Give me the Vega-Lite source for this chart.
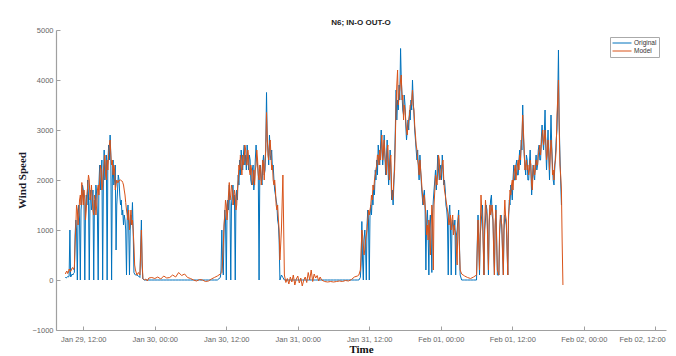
{
 "$schema": "https://vega.github.io/schema/vega-lite/v6.json",
 "width": 610, "height": 300,
 "autosize": {"type": "none"},
 "padding": {"left": 56, "top": 30, "right": 10, "bottom": 26},
 "background": "white",
 "title": {"text": "N6; IN-O OUT-O", "fontSize": 8, "font": "Liberation Sans", "fontWeight": "bold", "color": "#222", "offset": -1, "anchor": "middle"},
 "data": {"values": [
{"t":"2021-01-29T09:00Z","o":60,"m":120},{"t":"2021-01-29T09:07Z","o":40,"m":160},{"t":"2021-01-29T09:15Z","o":50,"m":180},{"t":"2021-01-29T09:22Z","o":70,"m":130},
{"t":"2021-01-29T09:30Z","o":60,"m":150},{"t":"2021-01-29T09:37Z","o":80,"m":220},{"t":"2021-01-29T09:45Z","o":1000,"m":200},{"t":"2021-01-29T09:52Z","o":60,"m":170},
{"t":"2021-01-29T10:00Z","o":80,"m":200},{"t":"2021-01-29T10:07Z","o":120,"m":240},{"t":"2021-01-29T10:15Z","o":100,"m":250},{"t":"2021-01-29T10:22Z","o":130,"m":210},
{"t":"2021-01-29T10:30Z","o":150,"m":250},{"t":"2021-01-29T10:37Z","o":900,"m":700},{"t":"2021-01-29T10:45Z","o":1200,"m":1100},{"t":"2021-01-29T10:52Z","o":1000,"m":1500},
{"t":"2021-01-29T11:00Z","o":0,"m":1400},{"t":"2021-01-29T11:07Z","o":1300,"m":1100},{"t":"2021-01-29T11:15Z","o":1500,"m":1300},{"t":"2021-01-29T11:22Z","o":1200,"m":1600},
{"t":"2021-01-29T11:30Z","o":0,"m":1700},{"t":"2021-01-29T11:37Z","o":1400,"m":1500},{"t":"2021-01-29T11:45Z","o":1600,"m":1950},{"t":"2021-01-29T11:52Z","o":1900,"m":1700},
{"t":"2021-01-29T12:00Z","o":1800,"m":1500},{"t":"2021-01-29T12:07Z","o":1500,"m":1800},{"t":"2021-01-29T12:15Z","o":0,"m":1600},{"t":"2021-01-29T12:22Z","o":1400,"m":1200},
{"t":"2021-01-29T12:30Z","o":1700,"m":1400},{"t":"2021-01-29T12:37Z","o":1500,"m":1700},{"t":"2021-01-29T12:45Z","o":2000,"m":1900},{"t":"2021-01-29T12:52Z","o":1700,"m":2100},
{"t":"2021-01-29T13:00Z","o":0,"m":2000},{"t":"2021-01-29T13:07Z","o":1500,"m":1600},{"t":"2021-01-29T13:15Z","o":1800,"m":1700},{"t":"2021-01-29T13:22Z","o":1400,"m":1900},
{"t":"2021-01-29T13:30Z","o":1500,"m":1600},{"t":"2021-01-29T13:37Z","o":1800,"m":1400},{"t":"2021-01-29T13:45Z","o":0,"m":1300},{"t":"2021-01-29T13:52Z","o":1600,"m":1700},
{"t":"2021-01-29T14:00Z","o":1400,"m":1600},{"t":"2021-01-29T14:07Z","o":1900,"m":1300},{"t":"2021-01-29T14:15Z","o":1700,"m":1500},{"t":"2021-01-29T14:22Z","o":1300,"m":1800},
{"t":"2021-01-29T14:30Z","o":0,"m":1900},{"t":"2021-01-29T14:37Z","o":1900,"m":1700},{"t":"2021-01-29T14:45Z","o":2300,"m":2000},{"t":"2021-01-29T14:52Z","o":1800,"m":2300},
{"t":"2021-01-29T15:00Z","o":2100,"m":2200},{"t":"2021-01-29T15:07Z","o":2400,"m":1800},{"t":"2021-01-29T15:15Z","o":0,"m":1900},{"t":"2021-01-29T15:22Z","o":2000,"m":2200},
{"t":"2021-01-29T15:30Z","o":2600,"m":2300},{"t":"2021-01-29T15:37Z","o":2000,"m":2500},{"t":"2021-01-29T15:45Z","o":2200,"m":2100},{"t":"2021-01-29T15:52Z","o":2500,"m":2000},
{"t":"2021-01-29T16:00Z","o":0,"m":2400},{"t":"2021-01-29T16:07Z","o":2300,"m":2200},{"t":"2021-01-29T16:15Z","o":2700,"m":2500},{"t":"2021-01-29T16:22Z","o":2400,"m":2700},
{"t":"2021-01-29T16:30Z","o":2900,"m":2800},{"t":"2021-01-29T16:37Z","o":2500,"m":2500},{"t":"2021-01-29T16:45Z","o":0,"m":2300},{"t":"2021-01-29T16:52Z","o":2000,"m":2400},
{"t":"2021-01-29T17:00Z","o":2400,"m":2100},{"t":"2021-01-29T17:07Z","o":1900,"m":2300},{"t":"2021-01-29T17:15Z","o":2000,"m":2200},{"t":"2021-01-29T17:22Z","o":2300,"m":1800},
{"t":"2021-01-29T17:30Z","o":600,"m":1900},{"t":"2021-01-29T17:37Z","o":1500,"m":2000},{"t":"2021-01-29T17:45Z","o":1800,"m":1950},{"t":"2021-01-29T17:52Z","o":2100,"m":1950},
{"t":"2021-01-29T18:00Z","o":2000,"m":2000},{"t":"2021-01-29T18:07Z","o":1700,"m":1990},{"t":"2021-01-29T18:15Z","o":1500,"m":2000},{"t":"2021-01-29T18:22Z","o":1600,"m":1990},
{"t":"2021-01-29T18:30Z","o":1300,"m":1980},{"t":"2021-01-29T18:37Z","o":1400,"m":1950},{"t":"2021-01-29T18:45Z","o":1100,"m":1900},{"t":"2021-01-29T18:52Z","o":1300,"m":1800},
{"t":"2021-01-29T19:00Z","o":1200,"m":1700},{"t":"2021-01-29T19:07Z","o":1000,"m":1550},{"t":"2021-01-29T19:15Z","o":100,"m":1400},{"t":"2021-01-29T19:22Z","o":1200,"m":1300},
{"t":"2021-01-29T19:30Z","o":1500,"m":1200},{"t":"2021-01-29T19:37Z","o":1100,"m":1400},{"t":"2021-01-29T19:45Z","o":100,"m":1000},{"t":"2021-01-29T19:52Z","o":1000,"m":1200},
{"t":"2021-01-29T20:00Z","o":1300,"m":1400},{"t":"2021-01-29T20:07Z","o":1100,"m":1100},{"t":"2021-01-29T20:15Z","o":1550,"m":1200},{"t":"2021-01-29T20:22Z","o":1000,"m":1000},
{"t":"2021-01-29T20:30Z","o":150,"m":700},{"t":"2021-01-29T20:37Z","o":120,"m":300},{"t":"2021-01-29T20:45Z","o":100,"m":200},
{"t":"2021-01-29T21:00Z","o":100,"m":100},{"t":"2021-01-29T21:15Z","o":80,"m":150},{"t":"2021-01-29T21:30Z","o":50,"m":100},{"t":"2021-01-29T21:37Z","o":600,"m":500},{"t":"2021-01-29T21:45Z","o":1200,"m":1000},
{"t":"2021-01-29T21:52Z","o":300,"m":400},{"t":"2021-01-29T22:00Z","o":20,"m":30},{"t":"2021-01-29T22:15Z","o":0,"m":0},{"t":"2021-01-29T22:30Z","o":0,"m":20},{"t":"2021-01-29T22:45Z","o":0,"m":-20},
{"t":"2021-01-29T23:00Z","o":0,"m":40},{"t":"2021-01-29T23:30Z","o":0,"m":50},
{"t":"2021-01-30T00:00Z","o":0,"m":30},{"t":"2021-01-30T00:30Z","o":0,"m":60},{"t":"2021-01-30T01:00Z","o":0,"m":20},{"t":"2021-01-30T01:30Z","o":0,"m":80},
{"t":"2021-01-30T02:00Z","o":0,"m":40},{"t":"2021-01-30T02:30Z","o":0,"m":50},{"t":"2021-01-30T03:00Z","o":0,"m":100},{"t":"2021-01-30T03:30Z","o":0,"m":60},
{"t":"2021-01-30T04:00Z","o":0,"m":150},{"t":"2021-01-30T04:30Z","o":0,"m":90},{"t":"2021-01-30T05:00Z","o":0,"m":120},{"t":"2021-01-30T05:30Z","o":0,"m":50},
{"t":"2021-01-30T06:00Z","o":0,"m":30},{"t":"2021-01-30T06:30Z","o":0,"m":0},{"t":"2021-01-30T07:00Z","o":0,"m":-20},{"t":"2021-01-30T07:30Z","o":0,"m":10},
{"t":"2021-01-30T08:00Z","o":0,"m":0},{"t":"2021-01-30T08:30Z","o":0,"m":-30},{"t":"2021-01-30T09:00Z","o":0,"m":-20},{"t":"2021-01-30T09:30Z","o":0,"m":20},
{"t":"2021-01-30T10:00Z","o":0,"m":50},{"t":"2021-01-30T10:30Z","o":0,"m":80},
{"t":"2021-01-30T11:00Z","o":50,"m":120},{"t":"2021-01-30T11:07Z","o":200,"m":130},{"t":"2021-01-30T11:15Z","o":1000,"m":150},{"t":"2021-01-30T11:22Z","o":300,"m":400},
{"t":"2021-01-30T11:30Z","o":100,"m":700},{"t":"2021-01-30T11:37Z","o":1000,"m":1100},{"t":"2021-01-30T11:45Z","o":1400,"m":1300},{"t":"2021-01-30T11:52Z","o":1200,"m":1600},
{"t":"2021-01-30T12:00Z","o":0,"m":1500},{"t":"2021-01-30T12:07Z","o":1300,"m":1200},{"t":"2021-01-30T12:15Z","o":1600,"m":1400},{"t":"2021-01-30T12:22Z","o":1400,"m":1700},
{"t":"2021-01-30T12:30Z","o":1900,"m":1950},{"t":"2021-01-30T12:37Z","o":1500,"m":1600},{"t":"2021-01-30T12:45Z","o":0,"m":1700},{"t":"2021-01-30T12:52Z","o":1500,"m":1900},
{"t":"2021-01-30T13:00Z","o":1700,"m":1800},{"t":"2021-01-30T13:07Z","o":1900,"m":1500},{"t":"2021-01-30T13:15Z","o":1500,"m":1600},{"t":"2021-01-30T13:22Z","o":1700,"m":1800},
{"t":"2021-01-30T13:30Z","o":0,"m":1700},{"t":"2021-01-30T13:37Z","o":1500,"m":1400},{"t":"2021-01-30T13:45Z","o":1800,"m":1500},{"t":"2021-01-30T13:52Z","o":1600,"m":1800},
{"t":"2021-01-30T14:00Z","o":2100,"m":2000},{"t":"2021-01-30T14:07Z","o":1900,"m":2300},{"t":"2021-01-30T14:15Z","o":2400,"m":2200},{"t":"2021-01-30T14:22Z","o":2100,"m":2500},
{"t":"2021-01-30T14:30Z","o":2600,"m":2300},{"t":"2021-01-30T14:37Z","o":2400,"m":2100},{"t":"2021-01-30T14:45Z","o":2200,"m":2500},{"t":"2021-01-30T14:52Z","o":2500,"m":2300},
{"t":"2021-01-30T15:00Z","o":2700,"m":2400},{"t":"2021-01-30T15:07Z","o":2300,"m":2700},{"t":"2021-01-30T15:15Z","o":2500,"m":2600},{"t":"2021-01-30T15:22Z","o":2200,"m":2300},
{"t":"2021-01-30T15:30Z","o":2700,"m":2300},{"t":"2021-01-30T15:37Z","o":2500,"m":2600},{"t":"2021-01-30T15:45Z","o":2200,"m":2400},{"t":"2021-01-30T15:52Z","o":2500,"m":2200},
{"t":"2021-01-30T16:00Z","o":2400,"m":2100},{"t":"2021-01-30T16:07Z","o":2000,"m":2300},{"t":"2021-01-30T16:15Z","o":1900,"m":2200},{"t":"2021-01-30T16:22Z","o":2200,"m":1900},
{"t":"2021-01-30T16:30Z","o":2300,"m":2000},{"t":"2021-01-30T16:37Z","o":1800,"m":2200},{"t":"2021-01-30T16:45Z","o":2000,"m":1900},{"t":"2021-01-30T16:52Z","o":2400,"m":2200},
{"t":"2021-01-30T17:00Z","o":2700,"m":2300},{"t":"2021-01-30T17:07Z","o":2400,"m":2600},{"t":"2021-01-30T17:15Z","o":2300,"m":2400},{"t":"2021-01-30T17:22Z","o":2100,"m":2100},
{"t":"2021-01-30T17:30Z","o":0,"m":2000},{"t":"2021-01-30T17:37Z","o":2000,"m":2300},{"t":"2021-01-30T17:45Z","o":2300,"m":2200},{"t":"2021-01-30T17:52Z","o":2000,"m":1900},
{"t":"2021-01-30T18:00Z","o":1900,"m":2100},{"t":"2021-01-30T18:07Z","o":2300,"m":2400},{"t":"2021-01-30T18:15Z","o":2500,"m":2300},{"t":"2021-01-30T18:22Z","o":2100,"m":2000},
{"t":"2021-01-30T18:30Z","o":2200,"m":2400},{"t":"2021-01-30T18:37Z","o":2600,"m":2600},{"t":"2021-01-30T18:45Z","o":3750,"m":3350},{"t":"2021-01-30T18:52Z","o":2800,"m":2900},
{"t":"2021-01-30T19:00Z","o":2600,"m":2500},{"t":"2021-01-30T19:07Z","o":2300,"m":2400},{"t":"2021-01-30T19:15Z","o":2900,"m":2700},{"t":"2021-01-30T19:22Z","o":2500,"m":2800},
{"t":"2021-01-30T19:30Z","o":2400,"m":2500},{"t":"2021-01-30T19:37Z","o":2600,"m":2200},{"t":"2021-01-30T19:45Z","o":2200,"m":2300},{"t":"2021-01-30T19:52Z","o":2300,"m":2000},
{"t":"2021-01-30T20:00Z","o":2000,"m":1900},{"t":"2021-01-30T20:07Z","o":1800,"m":2000},{"t":"2021-01-30T20:15Z","o":1700,"m":1800},{"t":"2021-01-30T20:22Z","o":1600,"m":1500},
{"t":"2021-01-30T20:30Z","o":1500,"m":1400},{"t":"2021-01-30T20:37Z","o":1200,"m":1500},{"t":"2021-01-30T20:45Z","o":1100,"m":1200},{"t":"2021-01-30T20:52Z","o":800,"m":1000},
{"t":"2021-01-30T21:00Z","o":0,"m":400},{"t":"2021-01-30T21:15Z","o":100,"m":1000},{"t":"2021-01-30T21:30Z","o":50,"m":2100},{"t":"2021-01-30T21:45Z","o":0,"m":100},
{"t":"2021-01-30T22:00Z","o":0,"m":-50},{"t":"2021-01-30T22:15Z","o":0,"m":30},{"t":"2021-01-30T22:30Z","o":0,"m":-80},{"t":"2021-01-30T22:45Z","o":0,"m":60},
{"t":"2021-01-30T23:00Z","o":0,"m":-40},{"t":"2021-01-30T23:15Z","o":0,"m":100},{"t":"2021-01-30T23:30Z","o":0,"m":-100},{"t":"2021-01-30T23:45Z","o":0,"m":20},
{"t":"2021-01-31T00:00Z","o":0,"m":80},{"t":"2021-01-31T00:15Z","o":0,"m":-60},{"t":"2021-01-31T00:30Z","o":0,"m":40},{"t":"2021-01-31T00:45Z","o":0,"m":-120},
{"t":"2021-01-31T01:00Z","o":0,"m":0},{"t":"2021-01-31T01:15Z","o":0,"m":60},{"t":"2021-01-31T01:30Z","o":0,"m":-50},{"t":"2021-01-31T01:45Z","o":0,"m":150},
{"t":"2021-01-31T02:00Z","o":0,"m":0},{"t":"2021-01-31T02:15Z","o":0,"m":200},{"t":"2021-01-31T02:30Z","o":0,"m":-30},{"t":"2021-01-31T02:45Z","o":0,"m":120},
{"t":"2021-01-31T03:00Z","o":0,"m":40},{"t":"2021-01-31T03:15Z","o":0,"m":90},{"t":"2021-01-31T03:30Z","o":0,"m":-20},{"t":"2021-01-31T03:45Z","o":0,"m":60},
{"t":"2021-01-31T04:00Z","o":0,"m":0},{"t":"2021-01-31T04:30Z","o":0,"m":-30},{"t":"2021-01-31T05:00Z","o":0,"m":-40},{"t":"2021-01-31T05:30Z","o":0,"m":-30},
{"t":"2021-01-31T06:00Z","o":0,"m":-40},{"t":"2021-01-31T06:30Z","o":0,"m":-30},{"t":"2021-01-31T07:00Z","o":0,"m":-20},{"t":"2021-01-31T07:30Z","o":0,"m":-30},
{"t":"2021-01-31T08:00Z","o":0,"m":-10},{"t":"2021-01-31T08:30Z","o":0,"m":-20},{"t":"2021-01-31T09:00Z","o":0,"m":10},{"t":"2021-01-31T09:30Z","o":0,"m":60},
{"t":"2021-01-31T10:00Z","o":0,"m":80},{"t":"2021-01-31T10:15Z","o":0,"m":100},
{"t":"2021-01-31T10:30Z","o":50,"m":200},{"t":"2021-01-31T10:37Z","o":300,"m":500},{"t":"2021-01-31T10:45Z","o":1170,"m":1000},{"t":"2021-01-31T10:52Z","o":400,"m":900},
{"t":"2021-01-31T11:00Z","o":0,"m":700},{"t":"2021-01-31T11:07Z","o":800,"m":500},{"t":"2021-01-31T11:15Z","o":1000,"m":600},{"t":"2021-01-31T11:22Z","o":700,"m":800},
{"t":"2021-01-31T11:30Z","o":0,"m":900},{"t":"2021-01-31T11:37Z","o":1100,"m":1000},{"t":"2021-01-31T11:45Z","o":1400,"m":1200},{"t":"2021-01-31T11:52Z","o":1200,"m":1400},
{"t":"2021-01-31T12:00Z","o":0,"m":1300},{"t":"2021-01-31T12:07Z","o":1300,"m":1400},{"t":"2021-01-31T12:15Z","o":1500,"m":1500},{"t":"2021-01-31T12:22Z","o":1300,"m":1700},
{"t":"2021-01-31T12:30Z","o":1700,"m":1600},{"t":"2021-01-31T12:37Z","o":1500,"m":1900},{"t":"2021-01-31T12:45Z","o":1900,"m":1800},{"t":"2021-01-31T12:52Z","o":1700,"m":2000},
{"t":"2021-01-31T13:00Z","o":2200,"m":2100},{"t":"2021-01-31T13:07Z","o":2000,"m":2200},{"t":"2021-01-31T13:15Z","o":2400,"m":2300},{"t":"2021-01-31T13:22Z","o":2100,"m":2500},
{"t":"2021-01-31T13:30Z","o":2700,"m":2500},{"t":"2021-01-31T13:37Z","o":2500,"m":2300},{"t":"2021-01-31T13:45Z","o":2300,"m":2600},{"t":"2021-01-31T13:52Z","o":2600,"m":2400},
{"t":"2021-01-31T14:00Z","o":3000,"m":2700},{"t":"2021-01-31T14:07Z","o":2600,"m":2900},{"t":"2021-01-31T14:15Z","o":2300,"m":2400},{"t":"2021-01-31T14:22Z","o":2500,"m":2600},
{"t":"2021-01-31T14:30Z","o":2900,"m":2800},{"t":"2021-01-31T14:37Z","o":2500,"m":2500},{"t":"2021-01-31T14:45Z","o":2100,"m":2300},{"t":"2021-01-31T14:52Z","o":2400,"m":2100},
{"t":"2021-01-31T15:00Z","o":2800,"m":2600},{"t":"2021-01-31T15:07Z","o":2300,"m":2700},{"t":"2021-01-31T15:15Z","o":1900,"m":2200},{"t":"2021-01-31T15:22Z","o":2200,"m":2000},
{"t":"2021-01-31T15:30Z","o":2600,"m":2400},{"t":"2021-01-31T15:37Z","o":2200,"m":2500},{"t":"2021-01-31T15:45Z","o":1600,"m":1800},{"t":"2021-01-31T15:52Z","o":1800,"m":1600},
{"t":"2021-01-31T16:00Z","o":1500,"m":1700},{"t":"2021-01-31T16:07Z","o":1900,"m":2000},{"t":"2021-01-31T16:15Z","o":2400,"m":2200},{"t":"2021-01-31T16:22Z","o":3000,"m":2800},
{"t":"2021-01-31T16:30Z","o":3800,"m":3500},{"t":"2021-01-31T16:37Z","o":3200,"m":3900},{"t":"2021-01-31T16:45Z","o":3600,"m":4200},{"t":"2021-01-31T16:52Z","o":3400,"m":3500},
{"t":"2021-01-31T17:00Z","o":3900,"m":3700},{"t":"2021-01-31T17:07Z","o":3600,"m":3800},{"t":"2021-01-31T17:15Z","o":4630,"m":4000},{"t":"2021-01-31T17:22Z","o":4000,"m":4100},
{"t":"2021-01-31T17:30Z","o":3700,"m":3600},{"t":"2021-01-31T17:37Z","o":3400,"m":3700},{"t":"2021-01-31T17:45Z","o":3300,"m":3200},{"t":"2021-01-31T17:52Z","o":3700,"m":3500},
{"t":"2021-01-31T18:00Z","o":3500,"m":3400},{"t":"2021-01-31T18:07Z","o":3100,"m":3200},{"t":"2021-01-31T18:15Z","o":2800,"m":3000},{"t":"2021-01-31T18:22Z","o":3000,"m":2900},
{"t":"2021-01-31T18:30Z","o":3200,"m":3100},{"t":"2021-01-31T18:37Z","o":3000,"m":3200},{"t":"2021-01-31T18:45Z","o":3400,"m":3300},{"t":"2021-01-31T18:52Z","o":3200,"m":3500},
{"t":"2021-01-31T19:00Z","o":3600,"m":3500},{"t":"2021-01-31T19:07Z","o":3400,"m":3600},{"t":"2021-01-31T19:15Z","o":4000,"m":3800},{"t":"2021-01-31T19:22Z","o":3600,"m":3500},
{"t":"2021-01-31T19:30Z","o":3300,"m":3400},{"t":"2021-01-31T19:37Z","o":3000,"m":3100},{"t":"2021-01-31T19:45Z","o":2800,"m":2900},{"t":"2021-01-31T19:52Z","o":2600,"m":2700},
{"t":"2021-01-31T20:00Z","o":2400,"m":2600},{"t":"2021-01-31T20:07Z","o":2600,"m":2400},{"t":"2021-01-31T20:15Z","o":2200,"m":2300},{"t":"2021-01-31T20:22Z","o":2000,"m":2100},
{"t":"2021-01-31T20:30Z","o":2500,"m":2400},{"t":"2021-01-31T20:37Z","o":2200,"m":2200},{"t":"2021-01-31T20:45Z","o":1900,"m":2000},{"t":"2021-01-31T20:52Z","o":1700,"m":1800},
{"t":"2021-01-31T21:00Z","o":1500,"m":1600},{"t":"2021-01-31T21:07Z","o":1700,"m":1500},{"t":"2021-01-31T21:15Z","o":1800,"m":1700},{"t":"2021-01-31T21:22Z","o":1400,"m":1500},
{"t":"2021-01-31T21:30Z","o":200,"m":1300},{"t":"2021-01-31T21:37Z","o":1100,"m":900},{"t":"2021-01-31T21:45Z","o":1400,"m":1100},{"t":"2021-01-31T21:52Z","o":1000,"m":800},
{"t":"2021-01-31T22:00Z","o":100,"m":1200},{"t":"2021-01-31T22:07Z","o":1100,"m":1000},{"t":"2021-01-31T22:15Z","o":1300,"m":500},{"t":"2021-01-31T22:22Z","o":900,"m":1000},
{"t":"2021-01-31T22:30Z","o":150,"m":1500},{"t":"2021-01-31T22:37Z","o":1300,"m":1200},{"t":"2021-01-31T22:45Z","o":1600,"m":200},{"t":"2021-01-31T22:52Z","o":1800,"m":1500},
{"t":"2021-01-31T23:00Z","o":2000,"m":1800},{"t":"2021-01-31T23:07Z","o":2200,"m":2100},{"t":"2021-01-31T23:15Z","o":1800,"m":2000},{"t":"2021-01-31T23:22Z","o":2100,"m":1900},
{"t":"2021-01-31T23:30Z","o":2500,"m":2200},{"t":"2021-01-31T23:37Z","o":2200,"m":2500},{"t":"2021-01-31T23:45Z","o":2000,"m":2400},{"t":"2021-01-31T23:52Z","o":2200,"m":2000},
{"t":"2021-02-01T00:00Z","o":2300,"m":2100},{"t":"2021-02-01T00:07Z","o":2000,"m":2200},{"t":"2021-02-01T00:15Z","o":2500,"m":2300},{"t":"2021-02-01T00:22Z","o":2200,"m":2400},
{"t":"2021-02-01T00:30Z","o":1900,"m":2000},{"t":"2021-02-01T00:37Z","o":2000,"m":1800},{"t":"2021-02-01T00:45Z","o":1800,"m":1700},{"t":"2021-02-01T00:52Z","o":1500,"m":1600},
{"t":"2021-02-01T01:00Z","o":1400,"m":1500},{"t":"2021-02-01T01:07Z","o":1200,"m":1400},{"t":"2021-02-01T01:15Z","o":100,"m":1300},{"t":"2021-02-01T01:22Z","o":1300,"m":1100},
{"t":"2021-02-01T01:30Z","o":1500,"m":1200},{"t":"2021-02-01T01:37Z","o":1100,"m":1300},{"t":"2021-02-01T01:45Z","o":100,"m":1000},{"t":"2021-02-01T01:52Z","o":1000,"m":1200},
{"t":"2021-02-01T02:00Z","o":1200,"m":1300},{"t":"2021-02-01T02:07Z","o":1100,"m":900},{"t":"2021-02-01T02:15Z","o":1000,"m":1100},{"t":"2021-02-01T02:22Z","o":1200,"m":1000},
{"t":"2021-02-01T02:30Z","o":100,"m":900},{"t":"2021-02-01T02:37Z","o":900,"m":600},{"t":"2021-02-01T02:45Z","o":1000,"m":300},{"t":"2021-02-01T02:52Z","o":1200,"m":1100},
{"t":"2021-02-01T03:00Z","o":1400,"m":1300},{"t":"2021-02-01T03:07Z","o":800,"m":700},{"t":"2021-02-01T03:15Z","o":100,"m":200},{"t":"2021-02-01T03:30Z","o":0,"m":120},{"t":"2021-02-01T03:45Z","o":0,"m":100},
{"t":"2021-02-01T04:00Z","o":0,"m":80},{"t":"2021-02-01T04:30Z","o":0,"m":50},{"t":"2021-02-01T05:00Z","o":0,"m":30},{"t":"2021-02-01T05:30Z","o":0,"m":60},
{"t":"2021-02-01T06:00Z","o":0,"m":100},{"t":"2021-02-01T06:07Z","o":700,"m":600},{"t":"2021-02-01T06:15Z","o":1300,"m":1200},{"t":"2021-02-01T06:22Z","o":800,"m":700},
{"t":"2021-02-01T06:30Z","o":100,"m":200},{"t":"2021-02-01T06:37Z","o":900,"m":1000},{"t":"2021-02-01T06:45Z","o":1100,"m":1700},{"t":"2021-02-01T06:52Z","o":1300,"m":1400},
{"t":"2021-02-01T07:00Z","o":1500,"m":1200},{"t":"2021-02-01T07:07Z","o":800,"m":700},{"t":"2021-02-01T07:15Z","o":100,"m":100},{"t":"2021-02-01T07:22Z","o":1000,"m":1100},
{"t":"2021-02-01T07:30Z","o":1200,"m":1600},{"t":"2021-02-01T07:37Z","o":1500,"m":1400},{"t":"2021-02-01T07:45Z","o":1400,"m":1300},{"t":"2021-02-01T07:52Z","o":900,"m":800},
{"t":"2021-02-01T08:00Z","o":100,"m":200},{"t":"2021-02-01T08:07Z","o":1100,"m":1200},{"t":"2021-02-01T08:15Z","o":1400,"m":1500},{"t":"2021-02-01T08:22Z","o":1600,"m":1300},
{"t":"2021-02-01T08:30Z","o":1700,"m":1400},{"t":"2021-02-01T08:37Z","o":1300,"m":1500},{"t":"2021-02-01T08:45Z","o":1200,"m":1300},{"t":"2021-02-01T08:52Z","o":700,"m":600},
{"t":"2021-02-01T09:00Z","o":100,"m":100},{"t":"2021-02-01T09:07Z","o":1000,"m":1100},{"t":"2021-02-01T09:15Z","o":1500,"m":1400},{"t":"2021-02-01T09:22Z","o":900,"m":800},
{"t":"2021-02-01T09:30Z","o":100,"m":200},{"t":"2021-02-01T09:37Z","o":100,"m":150},{"t":"2021-02-01T09:45Z","o":100,"m":100},{"t":"2021-02-01T09:52Z","o":900,"m":1000},
{"t":"2021-02-01T10:00Z","o":1200,"m":1300},{"t":"2021-02-01T10:07Z","o":1300,"m":1200},{"t":"2021-02-01T10:15Z","o":1000,"m":1100},{"t":"2021-02-01T10:22Z","o":600,"m":500},
{"t":"2021-02-01T10:30Z","o":100,"m":100},{"t":"2021-02-01T10:37Z","o":1000,"m":1200},{"t":"2021-02-01T10:45Z","o":1300,"m":1600},{"t":"2021-02-01T10:52Z","o":1200,"m":1300},
{"t":"2021-02-01T11:00Z","o":1100,"m":1200},{"t":"2021-02-01T11:07Z","o":700,"m":600},{"t":"2021-02-01T11:15Z","o":100,"m":100},{"t":"2021-02-01T11:22Z","o":1200,"m":1300},
{"t":"2021-02-01T11:30Z","o":1600,"m":1500},{"t":"2021-02-01T11:37Z","o":1500,"m":1800},{"t":"2021-02-01T11:45Z","o":1900,"m":1700},{"t":"2021-02-01T11:52Z","o":1800,"m":1900},
{"t":"2021-02-01T12:00Z","o":1600,"m":2000},{"t":"2021-02-01T12:07Z","o":2000,"m":1800},{"t":"2021-02-01T12:15Z","o":2300,"m":2100},{"t":"2021-02-01T12:22Z","o":2000,"m":2200},
{"t":"2021-02-01T12:30Z","o":2000,"m":2300},{"t":"2021-02-01T12:37Z","o":2300,"m":2000},{"t":"2021-02-01T12:45Z","o":2400,"m":2200},{"t":"2021-02-01T12:52Z","o":2100,"m":2300},
{"t":"2021-02-01T13:00Z","o":2100,"m":2400},{"t":"2021-02-01T13:07Z","o":2400,"m":2200},{"t":"2021-02-01T13:15Z","o":2600,"m":2500},{"t":"2021-02-01T13:22Z","o":2300,"m":2400},
{"t":"2021-02-01T13:30Z","o":2800,"m":2700},{"t":"2021-02-01T13:37Z","o":2600,"m":2900},{"t":"2021-02-01T13:45Z","o":3500,"m":3300},{"t":"2021-02-01T13:52Z","o":2900,"m":3000},
{"t":"2021-02-01T14:00Z","o":2500,"m":2600},{"t":"2021-02-01T14:07Z","o":2300,"m":2200},{"t":"2021-02-01T14:15Z","o":2100,"m":2300},{"t":"2021-02-01T14:22Z","o":2500,"m":2400},
{"t":"2021-02-01T14:30Z","o":2400,"m":2200},{"t":"2021-02-01T14:37Z","o":2000,"m":2300},{"t":"2021-02-01T14:45Z","o":2000,"m":2100},{"t":"2021-02-01T14:52Z","o":2300,"m":2200},
{"t":"2021-02-01T15:00Z","o":2600,"m":2400},{"t":"2021-02-01T15:07Z","o":2200,"m":2300},{"t":"2021-02-01T15:15Z","o":1700,"m":1900},{"t":"2021-02-01T15:22Z","o":2000,"m":1800},
{"t":"2021-02-01T15:30Z","o":2300,"m":2200},{"t":"2021-02-01T15:37Z","o":2100,"m":2300},{"t":"2021-02-01T15:45Z","o":2000,"m":2100},{"t":"2021-02-01T15:52Z","o":2300,"m":2200},
{"t":"2021-02-01T16:00Z","o":2500,"m":2400},{"t":"2021-02-01T16:07Z","o":2200,"m":2300},{"t":"2021-02-01T16:15Z","o":2300,"m":2300},{"t":"2021-02-01T16:22Z","o":2600,"m":2500},
{"t":"2021-02-01T16:30Z","o":2700,"m":2600},{"t":"2021-02-01T16:37Z","o":2400,"m":2700},{"t":"2021-02-01T16:45Z","o":2400,"m":2500},{"t":"2021-02-01T16:52Z","o":2800,"m":2700},
{"t":"2021-02-01T17:00Z","o":3100,"m":2900},{"t":"2021-02-01T17:07Z","o":2800,"m":3000},{"t":"2021-02-01T17:15Z","o":2600,"m":2700},{"t":"2021-02-01T17:22Z","o":2900,"m":2800},
{"t":"2021-02-01T17:30Z","o":3400,"m":3000},{"t":"2021-02-01T17:37Z","o":2700,"m":2800},{"t":"2021-02-01T17:45Z","o":2200,"m":2400},{"t":"2021-02-01T17:52Z","o":2600,"m":2500},
{"t":"2021-02-01T18:00Z","o":3000,"m":2800},{"t":"2021-02-01T18:07Z","o":2500,"m":2600},{"t":"2021-02-01T18:15Z","o":2000,"m":2200},{"t":"2021-02-01T18:22Z","o":2600,"m":2500},
{"t":"2021-02-01T18:30Z","o":3300,"m":2800},{"t":"2021-02-01T18:37Z","o":2700,"m":2600},{"t":"2021-02-01T18:45Z","o":2300,"m":2100},{"t":"2021-02-01T18:52Z","o":2000,"m":2200},
{"t":"2021-02-01T19:00Z","o":1900,"m":2000},{"t":"2021-02-01T19:07Z","o":2200,"m":2300},{"t":"2021-02-01T19:15Z","o":2500,"m":2400},{"t":"2021-02-01T19:22Z","o":2800,"m":2600},
{"t":"2021-02-01T19:30Z","o":3000,"m":3300},{"t":"2021-02-01T19:37Z","o":3500,"m":3600},{"t":"2021-02-01T19:45Z","o":4600,"m":4000},{"t":"2021-02-01T19:52Z","o":3200,"m":3100},
{"t":"2021-02-01T20:00Z","o":2500,"m":2300},{"t":"2021-02-01T20:07Z","o":2000,"m":2100},{"t":"2021-02-01T20:15Z","o":1500,"m":1800},{"t":"2021-02-01T20:22Z","o":null,"m":800},
{"t":"2021-02-01T20:30Z","o":null,"m":-100}
 ]},
 "encoding": {
  "x": {"field": "t", "type": "temporal", "title": "Time",
   "scale": {"type": "utc", "domain": [{"year": 2021, "month": 1, "date": 29, "hours": 7, "minutes": 25, "utc": true}, {"year": 2021, "month": 2, "date": 2, "hours": 13, "minutes": 48, "utc": true}]},
   "axis": {"format": "%b %d, %H:%M",
    "values": [{"year": 2021, "month": 1, "date": 29, "hours": 12, "utc": true}, {"year": 2021, "month": 1, "date": 30, "hours": 0, "utc": true}, {"year": 2021, "month": 1, "date": 30, "hours": 12, "utc": true}, {"year": 2021, "month": 1, "date": 31, "hours": 0, "utc": true}, {"year": 2021, "month": 1, "date": 31, "hours": 12, "utc": true}, {"year": 2021, "month": 2, "date": 1, "hours": 0, "utc": true}, {"year": 2021, "month": 2, "date": 1, "hours": 12, "utc": true}, {"year": 2021, "month": 2, "date": 2, "hours": 0, "utc": true}, {"year": 2021, "month": 2, "date": 2, "hours": 12, "utc": true}],
    "labelOverlap": false, "labelFlush": 15, "labelFlushOffset": 10,
    "grid": false, "domainColor": "#a0a0a0", "domainWidth": 1.2, "tickColor": "#a0a0a0", "tickSize": -4, "labelPadding": 9,
    "labelFont": "Liberation Sans", "labelFontSize": 7.5, "labelColor": "#666",
    "titleFont": "Liberation Serif", "titleFontWeight": "bold", "titleFontSize": 11, "titleColor": "#111", "titlePadding": 1}}
 },
 "layer": [
  {"mark": {"type": "line", "strokeWidth": 1, "clip": true},
   "encoding": {
    "y": {"field": "o", "type": "quantitative", "title": "Wind Speed",
     "scale": {"domain": [-1000, 5000], "nice": false, "zero": false},
     "axis": {"values": [-1000, 0, 1000, 2000, 3000, 4000, 5000], "format": "d", "grid": false, "domainColor": "#a0a0a0", "domainWidth": 1.2, "tickColor": "#a0a0a0", "tickSize": -4, "labelPadding": 7,
      "labelFont": "Liberation Sans", "labelFontSize": 7.5, "labelColor": "#666",
      "titleFont": "Liberation Serif", "titleFontWeight": "bold", "titleFontSize": 11, "titleColor": "#1a1a2a", "titlePadding": 4}},
    "color": {"datum": "Original", "type": "nominal", "scale": {"domain": ["Original", "Model"], "range": ["#0072BD", "#D95319"]},
     "legend": {"orient": "none", "legendX": 554, "legendY": 7, "title": null, "padding": 2, "strokeColor": "#aaa", "fillColor": "white",
      "symbolType": "stroke", "symbolSize": 361, "symbolStrokeWidth": 1, "clipHeight": 8, "labelFont": "Liberation Sans", "labelFontSize": 6.5, "labelColor": "#333", "labelOffset": 2, "rowPadding": 0}}
   }},
  {"mark": {"type": "line", "strokeWidth": 1, "clip": true},
   "encoding": {
    "y": {"field": "m", "type": "quantitative", "title": "Wind Speed"},
    "color": {"datum": "Model", "type": "nominal"}
   }}
 ],
 "config": {"view": {"stroke": null}}
}
